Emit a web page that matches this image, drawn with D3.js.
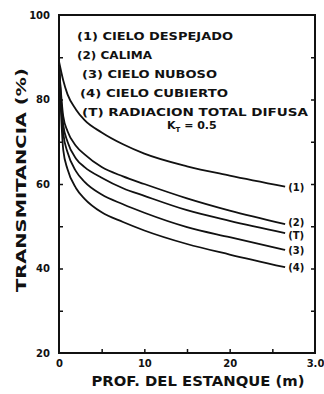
<!DOCTYPE html>
<html>
<head>
<meta charset="utf-8">
<script src="https://cdn.jsdelivr.net/npm/d3@7/dist/d3.min.js"></script>
<style>
  html, body { margin: 0; padding: 0; background: #fff; }
  svg { display: block; }
  text { font-family: "DejaVu Sans", sans-serif; font-weight: bold; fill: #111; }
</style>
</head>
<body>
<svg id="chart" width="324" height="394"></svg>
<script>
// Pond depth (m) at which each transmittance value is given
const depths = [0, 0.5, 1, 2, 3, 5, 7.5, 10, 15, 20, 26.5];

// Transmittance (%) for each sky condition
const cieloDespejado = [89, 84.5, 81.2, 77.6, 75.1, 72.2, 69.4, 67.2, 64.2, 62, 59.4];  // (1)
const calima         = [88, 76, 72.5, 69, 67, 64, 61.8, 60, 56.6, 53.7, 50.5];          // (2)
const totalDifusa    = [88, 74, 70, 66, 64, 61.5, 59, 57.2, 53.8, 51.3, 48.4];          // (T)
const cieloNuboso    = [88, 72, 67.5, 63, 60.5, 57.5, 55.2, 53.2, 49.8, 47.4, 44.4];    // (3)
const cieloCubierto  = [88, 68, 63.5, 59, 56.5, 53.3, 51, 49, 45.8, 43.3, 40.3];        // (4)

const seriesNames = ["(1)", "(2)", "(T)", "(3)", "(4)"];
const seriesValues = [cieloDespejado, calima, totalDifusa, cieloNuboso, cieloCubierto];

const legendLines = [
  "(1) CIELO DESPEJADO",
  "(2) CALIMA",
  "(3) CIELO NUBOSO",
  "(4) CIELO CUBIERTO",
  "(T) RADIACION TOTAL DIFUSA"
];

const xTickValues = [0, 10, 20, 30];
const xTickLabels = ["0", "10", "20", "3.0"];
const xMinorTicks = [5, 10, 15, 20, 25];
const yTickValues = [20, 40, 60, 80, 100];
const yMinorTicks = [30, 40, 50, 60, 70, 80, 90];

const svg = d3.select("#chart");
const plotL = 59, plotR = 315, plotT = 15, plotB = 353;

const x = d3.scaleLinear().domain([0, 30]).range([plotL, plotR]);
const y = d3.scaleLinear().domain([20, 100]).range([plotB, plotT]);

// frame
svg.append("rect")
  .attr("x", plotL).attr("y", plotT)
  .attr("width", plotR - plotL).attr("height", plotB - plotT)
  .attr("fill", "none").attr("stroke", "#111").attr("stroke-width", 2);

// inward tick marks
const tickStyle = g => {
  g.select(".domain").remove();
  g.selectAll("line").attr("stroke", "#111").attr("stroke-width", 1.5);
};
svg.append("g").attr("transform", `translate(0,${plotB})`)
  .call(d3.axisBottom(x).tickValues(xMinorTicks).tickSize(-4).tickFormat(""))
  .call(tickStyle);
svg.append("g").attr("transform", `translate(${plotL},0)`)
  .call(d3.axisLeft(y).tickValues(yMinorTicks).tickSize(-4).tickFormat(""))
  .call(tickStyle);
svg.append("g").attr("transform", `translate(${plotR},0)`)
  .call(d3.axisRight(y).tickValues(yMinorTicks).tickSize(-4).tickFormat(""))
  .call(tickStyle);

// tick labels
const labelStyle = g => {
  g.select(".domain").remove();
  g.selectAll("text").attr("font-size", 10).attr("font-family", "DejaVu Sans")
    .attr("font-weight", "bold").attr("fill", "#111");
};
svg.append("g").attr("transform", `translate(0,${plotB})`)
  .call(d3.axisBottom(x).tickValues(xTickValues).tickSize(0).tickPadding(7)
    .tickFormat((d, i) => xTickLabels[i]))
  .call(labelStyle);
svg.append("g").attr("transform", `translate(${plotL},0)`)
  .call(d3.axisLeft(y).tickValues(yTickValues).tickSize(0).tickPadding(9))
  .call(labelStyle);

// axis titles
svg.append("text")
  .attr("x", 198).attr("y", 386)
  .attr("text-anchor", "middle")
  .attr("font-size", 14).attr("font-weight", "normal")
  .attr("textLength", 213).attr("lengthAdjust", "spacingAndGlyphs")
  .text("PROF. DEL ESTANQUE (m)");
svg.append("text")
  .attr("transform", "translate(26,180) rotate(-90)")
  .attr("text-anchor", "middle")
  .attr("font-size", 14)
  .attr("textLength", 224).attr("lengthAdjust", "spacingAndGlyphs")
  .text("TRANSMITANCIA (%)");

// curves
const line = d3.line()
  .x((d, i) => x(depths[i]))
  .y(d => y(d))
  .curve(d3.curveMonotoneX);

svg.append("g").selectAll("path")
  .data(seriesValues)
  .join("path")
  .attr("d", line)
  .attr("fill", "none")
  .attr("stroke", "#111")
  .attr("stroke-width", 1.8);

// curve end labels, nudged apart where the ends sit close together
const ends = seriesValues.map((v, i) => ({ name: seriesNames[i], cy: y(v[v.length - 1]) }))
  .sort((a, b) => a.cy - b.cy);
const minGap = 13;
for (let iter = 0; iter < 20; iter++) {
  for (let i = 1; i < ends.length; i++) {
    const gap = ends[i].cy - ends[i - 1].cy;
    if (gap < minGap) {
      const push = (minGap - gap) / 2;
      ends[i - 1].cy -= push;
      ends[i].cy += push;
    }
  }
}
svg.append("g").selectAll("text")
  .data(ends)
  .join("text")
  .attr("x", x(depths[depths.length - 1]) + 3)
  .attr("y", d => d.cy + 4)
  .attr("font-size", 10)
  .text(d => d.name);

// legend
const legendX = [77, 77, 82, 80, 82];
const legendW = [156, 75, 135, 148, 226];
svg.append("g").selectAll("text")
  .data(legendLines)
  .join("text")
  .attr("x", (d, i) => legendX[i])
  .attr("y", (d, i) => 40 + i * 19)
  .attr("font-size", 11)
  .attr("textLength", (d, i) => legendW[i])
  .attr("lengthAdjust", "spacingAndGlyphs")
  .text(d => d);

const kt = svg.append("text")
  .attr("x", 167).attr("y", 129)
  .attr("font-size", 11);
kt.append("tspan").text("K");
kt.append("tspan").attr("font-size", 7).attr("dy", 3).text("T");
kt.append("tspan").attr("dy", -3).text(" = 0.5");
</script>
</body>
</html>
